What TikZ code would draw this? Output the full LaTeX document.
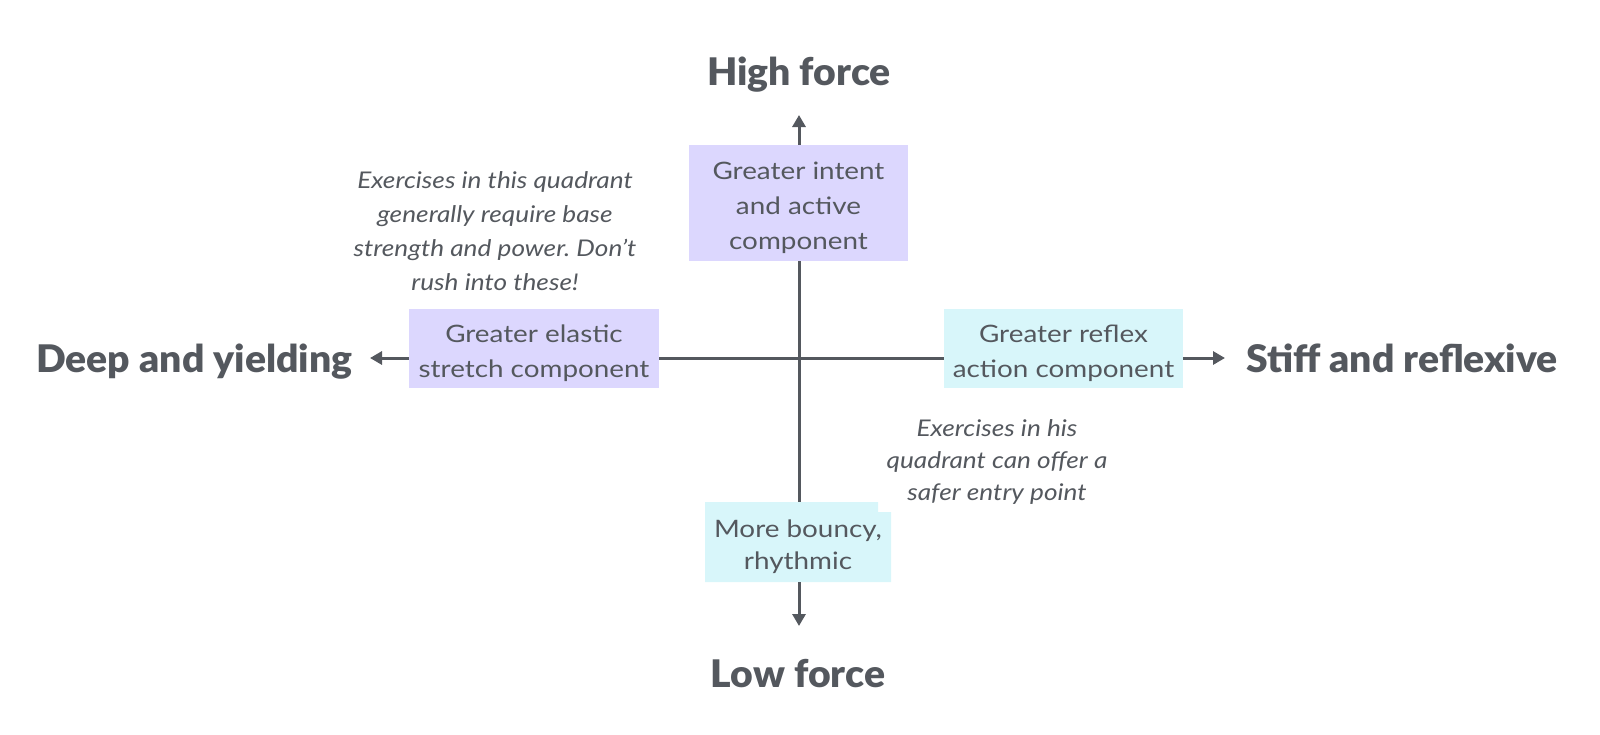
\documentclass[tikz,border=0pt]{standalone}
\usepackage{fontspec}
\setmainfont{Lato}
\newfontfamily\boxfont{Lato}[FakeStretch=1.16]
\newfontfamily\notefont{Lato}[FakeStretch=1.14]
\newfontfamily\heavyfont{Lato Black}[FakeStretch=1.03]
\usetikzlibrary{arrows.meta}
\definecolor{ink}{HTML}{54585E}
\definecolor{lav}{HTML}{DCD7FE}
\definecolor{cyanbox}{HTML}{D8F6FA}
\newcommand{\toppad}{\rule{0pt}{28pt}}
\frenchspacing
\begin{document}
\begin{tikzpicture}[x=1pt,y=-1pt,
  quadbox/.style={inner sep=0pt, align=center, text=ink, font=\boxfont\fontsize{24}{35}\selectfont},
  titletext/.style={text=ink, font=\heavyfont\fontsize{38}{40}\selectfont, inner sep=0pt, anchor=base},
  note/.style={text=ink, align=center, font=\notefont\itshape\fontsize{23}{34}\selectfont, inner sep=0pt},
  axisline/.style={draw=ink, line width=3pt},
  arr/.style={axisline, -{Triangle[length=12pt,width=13pt]}}]
\useasboundingbox (0,0) rectangle (1600,734);
\coordinate (c) at (799,358);
\coordinate (ntip) at (799,115);
\coordinate (stip) at (799,626);
\coordinate (wtip) at (370,358);
\coordinate (etip) at (1225,358);
% boxes
\node[quadbox, fill=lav, minimum width=219pt, minimum height=116pt] (top) at (798.5,203) {\toppad Greater intent\\and active\\component};
\node[quadbox, fill=lav, minimum width=250pt, minimum height=79pt] (left) at (534,348.5) {\toppad Greater elastic\\stretch component};
\node[quadbox, fill=cyanbox, minimum width=239pt, minimum height=79pt] (right) at (1063.5,348.5) {\toppad Greater reflex\\action component};
\fill[cyanbox] (705,502) -- (878,502) -- (878,512) -- (891,512) -- (891,582) -- (705,582) -- cycle;
\node[quadbox, font=\boxfont\fontsize{24}{32}\selectfont, minimum width=186pt, minimum height=80pt] (bottom) at (798,542) {\toppad More bouncy,\\rhythmic};
% axes
\draw[axisline] (left.east |- c) -- (right.west |- c);
\draw[axisline] (top.south -| c) -- (bottom.north -| c);
\draw[arr] (top.north -| c) -- (ntip);
\draw[arr] (bottom.south -| c) -- (stip);
\draw[arr] (left.west |- c) -- (wtip);
\draw[arr] (right.east |- c) -- (etip);
% titles
\node[titletext] (hf) at (799,85) {High force};
\node[titletext] (lf) at (798,687) {Low force};
\node[titletext, anchor=base west] (dy) at (36,372) {Deep and yielding};
\node[titletext, anchor=base east] (sr) at (1558,372) {Stiff and reflexive};
% notes
\node[note] (n1) at (495,231) {Exercises in this quadrant\\generally require base\\strength and power. Don’t\\rush into these!};
\node[note, font=\notefont\itshape\fontsize{23}{32}\selectfont] (n2) at (997,462) {Exercises in his\\quadrant can offer a\\safer entry point};
\end{tikzpicture}
\end{document}
